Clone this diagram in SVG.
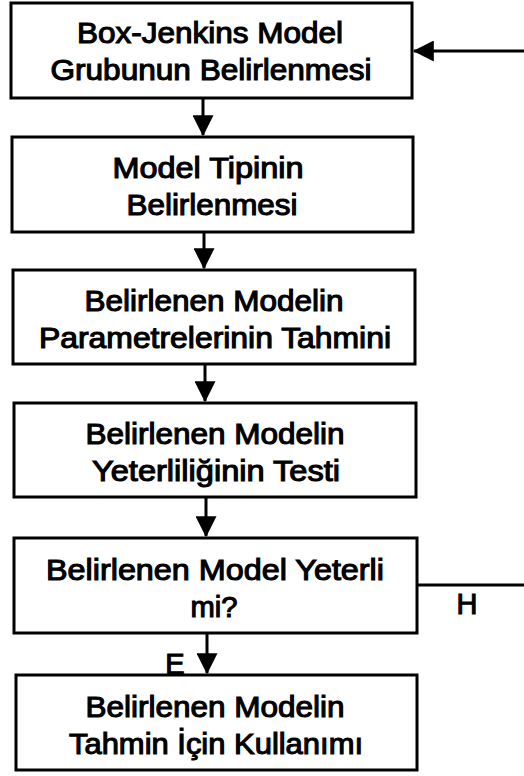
<svg xmlns="http://www.w3.org/2000/svg" width="524" height="776" viewBox="0 0 524 776">
<style>
.box{fill:#fff;stroke:#000;stroke-width:3}
.t{font-family:"Liberation Sans",Arial,sans-serif;font-size:29px;fill:#000;stroke:#000;stroke-width:1.1;text-anchor:middle}
.c{stroke:#000;stroke-width:3;fill:none}
.lbl{font-family:"Liberation Sans",Arial,sans-serif;font-size:29px;fill:#000;stroke:#000;stroke-width:1.1;text-anchor:middle}
</style>
<defs>
<marker id="ah" markerWidth="7" markerHeight="7" refX="6.6" refY="3.5" orient="auto" markerUnits="strokeWidth">
<path d="M0,0 L7,3.5 L0,7 Z" fill="#000"/>
</marker>
</defs>
<rect width="524" height="776" fill="#fff"/>
<g id="connectors">
<line class="c" x1="203" y1="98" x2="203" y2="135" marker-end="url(#ah)"/>
<line class="c" x1="204" y1="232" x2="204" y2="268" marker-end="url(#ah)"/>
<line class="c" x1="205" y1="364" x2="205" y2="401" marker-end="url(#ah)"/>
<line class="c" x1="206" y1="497" x2="206" y2="536" marker-end="url(#ah)"/>
<line class="c" x1="207" y1="633" x2="207" y2="673" marker-end="url(#ah)"/>
<line class="c" x1="416" y1="585" x2="524" y2="585"/>
<line class="c" x1="524" y1="51" x2="414" y2="51" marker-end="url(#ah)"/>
<text class="lbl" x="467" y="614">H</text>
<text class="lbl" x="175" y="674">E</text>
</g>
<g id="n1">
<rect class="box" x="11" y="3" width="401" height="95"/>
<text class="t" x="210" y="43" textLength="266" lengthAdjust="spacingAndGlyphs">Box-Jenkins Model</text>
<text class="t" x="211" y="80" textLength="321" lengthAdjust="spacingAndGlyphs">Grubunun Belirlenmesi</text>
</g>
<g id="n2">
<rect class="box" x="12" y="137" width="401" height="95"/>
<text class="t" x="208" y="178" textLength="191" lengthAdjust="spacingAndGlyphs">Model Tipinin</text>
<text class="t" x="212" y="215" textLength="171" lengthAdjust="spacingAndGlyphs">Belirlenmesi</text>
</g>
<g id="n3">
<rect class="box" x="13" y="270" width="402" height="94"/>
<text class="t" x="214" y="311" textLength="259" lengthAdjust="spacingAndGlyphs">Belirlenen Modelin</text>
<text class="t" x="215" y="348" textLength="352" lengthAdjust="spacingAndGlyphs">Parametrelerinin Tahmini</text>
</g>
<g id="n4">
<rect class="box" x="14" y="403" width="402" height="94"/>
<text class="t" x="215" y="444" textLength="259" lengthAdjust="spacingAndGlyphs">Belirlenen Modelin</text>
<text class="t" x="216" y="481" textLength="248" lengthAdjust="spacingAndGlyphs">Yeterliliğinin Testi</text>
</g>
<g id="n5">
<rect class="box" x="14" y="538" width="403" height="95"/>
<text class="t" x="215" y="580" textLength="338" lengthAdjust="spacingAndGlyphs">Belirlenen Model Yeterli</text>
<text class="t" x="214" y="617" textLength="47" lengthAdjust="spacingAndGlyphs">mi?</text>
</g>
<g id="n6">
<rect class="box" x="16" y="675" width="401" height="95"/>
<text class="t" x="215" y="717" textLength="259" lengthAdjust="spacingAndGlyphs">Belirlenen Modelin</text>
<text class="t" x="216" y="754" textLength="294" lengthAdjust="spacingAndGlyphs">Tahmin İçin Kullanımı</text>
</g>
</svg>
